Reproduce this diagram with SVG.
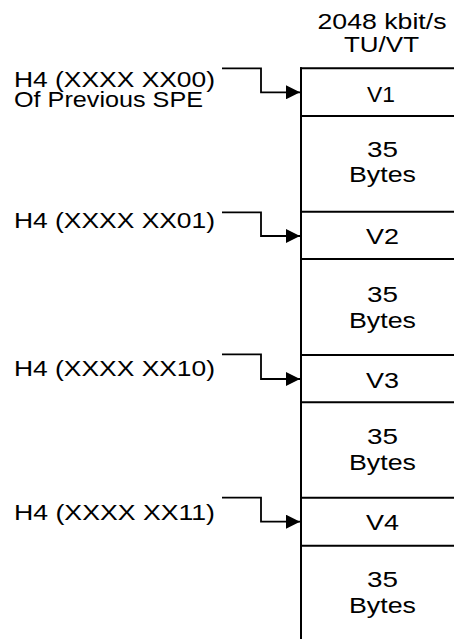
<svg xmlns="http://www.w3.org/2000/svg" width="454" height="639" viewBox="0 0 454 639">
<style>
text{font-family:"Liberation Sans",Arial,sans-serif;font-size:22px;fill:#000}
.c{text-anchor:middle}
.ln{stroke:#000;stroke-width:2;fill:none}
.cn{stroke:#000;stroke-width:1.8;fill:none;marker-end:url(#ah)}
</style>
<defs>
<marker id="ah" markerUnits="userSpaceOnUse" markerWidth="14" markerHeight="14" refX="14" refY="7" orient="auto">
<path d="M0,0 L14,7 L0,14 z" fill="#000"/>
</marker>
</defs>
<g id="header">
<text class="c" x="382" y="29.3" textLength="129" lengthAdjust="spacingAndGlyphs">2048 kbit/s</text>
<text class="c" x="381.5" y="51.7" textLength="75" lengthAdjust="spacingAndGlyphs">TU/VT</text>
</g>
<g id="frame">
<line class="ln" x1="301" y1="67.3" x2="301" y2="639"/>
<line class="ln" x1="300" y1="68.3" x2="454" y2="68.3"/>
</g>
<g id="v1">
<line class="ln" x1="300" y1="116" x2="454" y2="116"/>
<text class="c" x="381" y="102.3" textLength="28" lengthAdjust="spacingAndGlyphs">V1</text>
</g>
<g id="bytes1">
<line class="ln" x1="300" y1="211.7" x2="454" y2="211.7"/>
<text class="c" x="382.5" y="157.3" textLength="31" lengthAdjust="spacingAndGlyphs">35</text>
<text class="c" x="382.5" y="182.3" textLength="67" lengthAdjust="spacingAndGlyphs">Bytes</text>
</g>
<g id="v2">
<line class="ln" x1="300" y1="259" x2="454" y2="259"/>
<text class="c" x="382.5" y="244.3" textLength="33" lengthAdjust="spacingAndGlyphs">V2</text>
</g>
<g id="bytes2">
<line class="ln" x1="300" y1="355" x2="454" y2="355"/>
<text class="c" x="382.5" y="301.7" textLength="31" lengthAdjust="spacingAndGlyphs">35</text>
<text class="c" x="382.5" y="327.7" textLength="67" lengthAdjust="spacingAndGlyphs">Bytes</text>
</g>
<g id="v3">
<line class="ln" x1="300" y1="402.3" x2="454" y2="402.3"/>
<text class="c" x="382.5" y="388.3" textLength="33" lengthAdjust="spacingAndGlyphs">V3</text>
</g>
<g id="bytes3">
<line class="ln" x1="300" y1="497.7" x2="454" y2="497.7"/>
<text class="c" x="382.5" y="444" textLength="31" lengthAdjust="spacingAndGlyphs">35</text>
<text class="c" x="382.5" y="470" textLength="67" lengthAdjust="spacingAndGlyphs">Bytes</text>
</g>
<g id="v4">
<line class="ln" x1="300" y1="545.7" x2="454" y2="545.7"/>
<text class="c" x="382.5" y="530" textLength="33" lengthAdjust="spacingAndGlyphs">V4</text>
</g>
<g id="bytes4">
<text class="c" x="382.5" y="586.7" textLength="31" lengthAdjust="spacingAndGlyphs">35</text>
<text class="c" x="382.5" y="612.7" textLength="67" lengthAdjust="spacingAndGlyphs">Bytes</text>
</g>
<g id="label1">
<text x="14" y="86.7" textLength="201" lengthAdjust="spacingAndGlyphs">H4 (XXXX XX00)</text>
<text x="14" y="106.5" textLength="189" lengthAdjust="spacingAndGlyphs">Of Previous SPE</text>
</g>
<g id="label2"><text x="14" y="228.3" textLength="201" lengthAdjust="spacingAndGlyphs">H4 (XXXX XX01)</text></g>
<g id="label3"><text x="14" y="376" textLength="201" lengthAdjust="spacingAndGlyphs">H4 (XXXX XX10)</text></g>
<g id="label4"><text x="14" y="520" textLength="201" lengthAdjust="spacingAndGlyphs">H4 (XXXX XX11)</text></g>
<g id="connectors">
<path class="cn" d="M222,68.3 H261 V92.3 H300"/>
<path class="cn" d="M222,212.3 H261 V236 H300"/>
<path class="cn" d="M222,354.3 H261 V379 H300"/>
<path class="cn" d="M222,497.7 H261 V521.7 H300"/>
</g>
</svg>
